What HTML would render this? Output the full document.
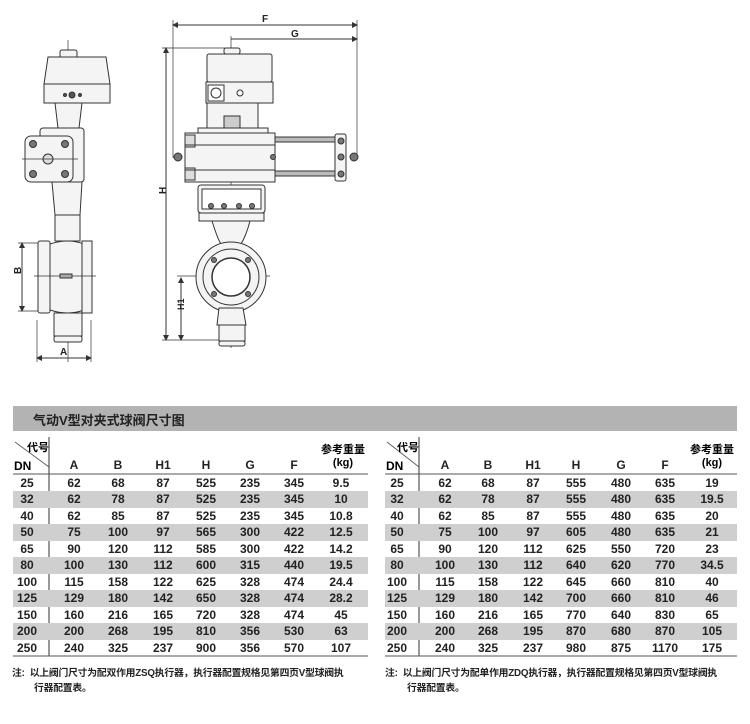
<!DOCTYPE html>
<html><head><meta charset="utf-8"><style>
body{margin:0;background:#fff;width:750px;height:724px;position:relative;overflow:hidden;font-family:"Liberation Sans","Noto Sans CJK SC",sans-serif;}
.bar{position:absolute;left:13px;top:406px;width:724px;height:25px;background:#b3b3b3;}
.bar span{position:absolute;left:20px;top:4px;font-size:13px;font-weight:bold;color:#222;}
.t{position:absolute;top:437px;}
.row{position:absolute;left:0;height:16.5px;font-size:12px;font-weight:bold;color:#222;}
.row div{position:absolute;top:1px;width:40px;margin-left:-20px;text-align:center;}
.g{background:#cfcfcf;}
.note{position:absolute;font-size:9.8px;font-weight:bold;color:#222;line-height:15px;white-space:nowrap;letter-spacing:-0.2px;}
</style></head><body>
<svg width="750" height="400" style="position:absolute;left:0;top:0" stroke="#333" fill="none" stroke-width="1">
<defs><marker id="ar" markerWidth="6" markerHeight="6" refX="5" refY="3" orient="auto-start-reverse"><path d="M0 0 L6 3 L0 6 Z" fill="#333" stroke="none"/></marker></defs>
<!-- left view -->
<line x1="68" y1="40" x2="68" y2="362" stroke-width="0.7"/>
<rect x="60" y="50" width="17" height="8" rx="2" fill="#f4f4f4"/>
<path d="M48 57 L106 57 L110 84 L44 84 Z" fill="#f4f4f4"/>
<rect x="44" y="84" width="66" height="19" fill="#f4f4f4"/>
<circle cx="72" cy="95" r="3" fill="#555"/><circle cx="65" cy="95" r="1.5" fill="#555"/><circle cx="80" cy="95" r="1.5" fill="#555"/>
<path d="M55 103 L82 103 L79 128 L58 128 Z" fill="#f4f4f4"/>
<rect x="40" y="128" width="44" height="54" rx="3" fill="#f4f4f4"/>
<rect x="25" y="136" width="48" height="46" rx="6" fill="#f4f4f4"/>
<circle cx="33" cy="144" r="3.5" fill="#777"/><circle cx="65" cy="144" r="3.5" fill="#777"/><circle cx="33" cy="174" r="3.5" fill="#777"/><circle cx="65" cy="174" r="3.5" fill="#777"/>
<circle cx="48" cy="159" r="5" fill="#ddd"/>
<line x1="22" y1="159" x2="78" y2="159" stroke-width="0.7"/>
<path d="M52 182 L82 182 L80 215 L55 215 Z" fill="#f4f4f4"/>
<rect x="55" y="215" width="25" height="26" fill="#f4f4f4"/>
<rect x="38" y="241" width="12" height="72" rx="2" fill="#f4f4f4"/>
<path d="M50 244 Q68 238 84 244 L84 310 Q68 316 50 310 Z" fill="#f4f4f4"/>
<rect x="82" y="241" width="10" height="72" fill="#f4f4f4"/>
<rect x="54" y="313" width="28" height="23" fill="#f4f4f4"/>
<rect x="54" y="336" width="28" height="6" rx="2" fill="#f4f4f4"/>
<line x1="34" y1="276" x2="96" y2="276" stroke-width="0.7"/>
<rect x="60" y="274" width="12" height="4" fill="#aaa"/>
<line x1="18" y1="243" x2="38" y2="243" stroke-width="0.7"/><line x1="18" y1="311" x2="38" y2="311" stroke-width="0.7"/>
<line x1="22" y1="243" x2="22" y2="311" marker-start="url(#ar)" marker-end="url(#ar)"/>
<line x1="37" y1="320" x2="37" y2="362" stroke-width="0.7"/><line x1="91" y1="320" x2="91" y2="362" stroke-width="0.7"/>
<line x1="37" y1="358" x2="91" y2="358" marker-start="url(#ar)" marker-end="url(#ar)"/>
<!-- right view -->
<line x1="231" y1="36" x2="231" y2="348" stroke-width="0.7"/>
<line x1="173" y1="25" x2="357" y2="25" marker-start="url(#ar)" marker-end="url(#ar)"/>
<line x1="173" y1="20" x2="173" y2="158" stroke-width="0.7"/><line x1="357" y1="20" x2="357" y2="158" stroke-width="0.7"/>
<line x1="231" y1="39" x2="357" y2="39" marker-end="url(#ar)"/>
<line x1="166" y1="48" x2="166" y2="340" marker-start="url(#ar)" marker-end="url(#ar)"/>
<line x1="162" y1="48" x2="225" y2="48" stroke-width="0.7"/>
<line x1="162" y1="340" x2="222" y2="340" stroke-width="0.7"/>
<line x1="181" y1="278" x2="181" y2="340" marker-start="url(#ar)" marker-end="url(#ar)"/>
<line x1="177" y1="276" x2="270" y2="276" stroke-width="0.7"/>
<rect x="224" y="48" width="16" height="6" rx="2" fill="#f4f4f4"/>
<rect x="207" y="54" width="65" height="28" rx="2" fill="#f4f4f4"/>
<rect x="206" y="82" width="67" height="21" fill="#f4f4f4"/>
<rect x="208" y="85" width="16" height="16" fill="#fff"/><circle cx="216" cy="93" r="5"/>
<circle cx="240" cy="93" r="3"/>
<rect x="207" y="103" width="51" height="27" fill="#f4f4f4"/>
<rect x="224" y="116" width="16" height="12" fill="#ccc"/>
<rect x="198" y="128" width="70" height="5" fill="#f4f4f4"/>
<rect x="185" y="133" width="90" height="49" fill="#f4f4f4"/>
<rect x="185" y="135" width="10" height="12" fill="#ddd"/><rect x="185" y="168" width="10" height="12" fill="#ddd"/>
<line x1="185" y1="145" x2="275" y2="145"/><line x1="185" y1="170" x2="275" y2="170"/>
<circle cx="178" cy="157" r="4" fill="#777"/><circle cx="273" cy="157" r="2.5" fill="#777"/>
<rect x="275" y="137" width="60" height="5" fill="#bbb"/><rect x="275" y="171" width="60" height="5" fill="#bbb"/>
<rect x="335" y="134" width="11" height="47" rx="2" fill="#f4f4f4"/>
<circle cx="341" cy="141" r="3" fill="#777"/><circle cx="341" cy="157" r="3" fill="#777"/><circle cx="341" cy="174" r="3" fill="#777"/>
<circle cx="354" cy="157" r="4" fill="#777"/>
<rect x="198" y="185" width="67" height="28" rx="3" fill="#f4f4f4"/>
<rect x="202" y="189" width="59" height="20" fill="#fff"/>
<circle cx="211" cy="206" r="2.5" fill="#777"/><circle cx="224" cy="206" r="2.5" fill="#777"/><circle cx="239" cy="206" r="2.5" fill="#777"/><circle cx="252" cy="206" r="2.5" fill="#777"/>
<rect x="199" y="213" width="65" height="8" fill="#f4f4f4"/>
<path d="M212 221 Q218 240 221 244 L241 244 Q246 236 250 221 Z" fill="#f4f4f4"/>
<circle cx="231" cy="277" r="35" fill="#f4f4f4"/>
<circle cx="231" cy="277" r="28"/>
<circle cx="231" cy="277" r="19" fill="#fff" stroke-width="1.5"/>
<circle cx="214" cy="260" r="2.5" fill="#777"/><circle cx="248" cy="260" r="2.5" fill="#777"/><circle cx="214" cy="294" r="2.5" fill="#777"/><circle cx="248" cy="294" r="2.5" fill="#777"/>
<path d="M219 308 L243 308 L246 325 L217 325 Z" fill="#f4f4f4"/>
<rect x="219" y="325" width="26" height="16" fill="#f4f4f4"/>
<rect x="219" y="341" width="26" height="5" rx="2" fill="#f4f4f4"/>
<g fill="#222" stroke="none" font-family="Liberation Sans" font-size="10" font-weight="bold">
<text x="262" y="22">F</text><text x="291" y="37">G</text>
<text x="60" y="355">A</text>
<text x="19" y="282" transform="rotate(-90 16 277)">B</text>
<text x="164" y="202" transform="rotate(-90 161 197)">H</text>
<text x="180" y="318" transform="rotate(-90 178 312)" font-size="9">H1</text>
</g>
</svg>

<div class="bar"><span>气动V型对夹式球阀尺寸图</span></div>

<!-- left table -->
<div class="t" style="left:13px;width:355px;height:220px;">
  <svg width="355" height="220" style="position:absolute;left:0;top:0" stroke="#555">
    <line x1="0" y1="37" x2="355" y2="37" stroke-width="1"/>
    <line x1="36" y1="0" x2="36" y2="219" stroke-width="1.2"/>
    <line x1="2" y1="5" x2="36" y2="30" stroke-width="0.8"/>
    <line x1="0" y1="219" x2="355" y2="219" stroke-width="1"/>
  </svg>
  <div style="position:absolute;left:14px;top:2px;font-size:11px;font-weight:bold">代号</div>
  <div style="position:absolute;left:1px;top:22px;font-size:12px;font-weight:bold">DN</div>
  <div style="position:absolute;left:308px;top:7px;font-size:11px;font-weight:bold;text-align:center;width:44px;line-height:13px">参考重量<br>(kg)</div>
  <div class="row" style="top:20px;width:355px"><div style="left:61px">A</div><div style="left:105px">B</div><div style="left:150px">H1</div><div style="left:193px">H</div><div style="left:237px">G</div><div style="left:281px">F</div></div>
  <div class="row" style="top:37.5px;width:355px"><div style="left:14px">25</div><div style="left:61px">62</div><div style="left:105px">68</div><div style="left:150px">87</div><div style="left:193px">525</div><div style="left:237px">235</div><div style="left:281px">345</div><div style="left:328px">9.5</div></div>
  <div class="row g" style="top:54px;width:355px"><div style="left:14px">32</div><div style="left:61px">62</div><div style="left:105px">78</div><div style="left:150px">87</div><div style="left:193px">525</div><div style="left:237px">235</div><div style="left:281px">345</div><div style="left:328px">10</div></div>
  <div class="row" style="top:70.5px;width:355px"><div style="left:14px">40</div><div style="left:61px">62</div><div style="left:105px">85</div><div style="left:150px">87</div><div style="left:193px">525</div><div style="left:237px">235</div><div style="left:281px">345</div><div style="left:328px">10.8</div></div>
  <div class="row g" style="top:87px;width:355px"><div style="left:14px">50</div><div style="left:61px">75</div><div style="left:105px">100</div><div style="left:150px">97</div><div style="left:193px">565</div><div style="left:237px">300</div><div style="left:281px">422</div><div style="left:328px">12.5</div></div>
  <div class="row" style="top:103.5px;width:355px"><div style="left:14px">65</div><div style="left:61px">90</div><div style="left:105px">120</div><div style="left:150px">112</div><div style="left:193px">585</div><div style="left:237px">300</div><div style="left:281px">422</div><div style="left:328px">14.2</div></div>
  <div class="row g" style="top:120px;width:355px"><div style="left:14px">80</div><div style="left:61px">100</div><div style="left:105px">130</div><div style="left:150px">112</div><div style="left:193px">600</div><div style="left:237px">315</div><div style="left:281px">440</div><div style="left:328px">19.5</div></div>
  <div class="row" style="top:136.5px;width:355px"><div style="left:14px">100</div><div style="left:61px">115</div><div style="left:105px">158</div><div style="left:150px">122</div><div style="left:193px">625</div><div style="left:237px">328</div><div style="left:281px">474</div><div style="left:328px">24.4</div></div>
  <div class="row g" style="top:153px;width:355px"><div style="left:14px">125</div><div style="left:61px">129</div><div style="left:105px">180</div><div style="left:150px">142</div><div style="left:193px">650</div><div style="left:237px">328</div><div style="left:281px">474</div><div style="left:328px">28.2</div></div>
  <div class="row" style="top:169.5px;width:355px"><div style="left:14px">150</div><div style="left:61px">160</div><div style="left:105px">216</div><div style="left:150px">165</div><div style="left:193px">720</div><div style="left:237px">328</div><div style="left:281px">474</div><div style="left:328px">45</div></div>
  <div class="row g" style="top:186px;width:355px"><div style="left:14px">200</div><div style="left:61px">200</div><div style="left:105px">268</div><div style="left:150px">195</div><div style="left:193px">810</div><div style="left:237px">356</div><div style="left:281px">530</div><div style="left:328px">63</div></div>
  <div class="row" style="top:202.5px;width:355px"><div style="left:14px">250</div><div style="left:61px">240</div><div style="left:105px">325</div><div style="left:150px">237</div><div style="left:193px">900</div><div style="left:237px">356</div><div style="left:281px">570</div><div style="left:328px">107</div></div>
</div>

<!-- right table -->
<div class="t" style="left:385px;width:352px;height:220px;">
  <svg width="352" height="220" style="position:absolute;left:0;top:0" stroke="#555">
    <line x1="0" y1="37" x2="352" y2="37" stroke-width="1"/>
    <line x1="34" y1="0" x2="34" y2="219" stroke-width="1.2"/>
    <line x1="2" y1="5" x2="34" y2="30" stroke-width="0.8"/>
    <line x1="0" y1="219" x2="352" y2="219" stroke-width="1"/>
  </svg>
  <div style="position:absolute;left:12px;top:2px;font-size:11px;font-weight:bold">代号</div>
  <div style="position:absolute;left:1px;top:22px;font-size:12px;font-weight:bold">DN</div>
  <div style="position:absolute;left:305px;top:7px;font-size:11px;font-weight:bold;text-align:center;width:44px;line-height:13px">参考重量<br>(kg)</div>
  <div class="row" style="top:20px;width:352px"><div style="left:60px">A</div><div style="left:103px">B</div><div style="left:148px">H1</div><div style="left:191px">H</div><div style="left:236px">G</div><div style="left:280px">F</div></div>
  <div class="row" style="top:37.5px;width:352px"><div style="left:12px">25</div><div style="left:60px">62</div><div style="left:103px">68</div><div style="left:148px">87</div><div style="left:191px">555</div><div style="left:236px">480</div><div style="left:280px">635</div><div style="left:327px">19</div></div>
  <div class="row g" style="top:54px;width:352px"><div style="left:12px">32</div><div style="left:60px">62</div><div style="left:103px">78</div><div style="left:148px">87</div><div style="left:191px">555</div><div style="left:236px">480</div><div style="left:280px">635</div><div style="left:327px">19.5</div></div>
  <div class="row" style="top:70.5px;width:352px"><div style="left:12px">40</div><div style="left:60px">62</div><div style="left:103px">85</div><div style="left:148px">87</div><div style="left:191px">555</div><div style="left:236px">480</div><div style="left:280px">635</div><div style="left:327px">20</div></div>
  <div class="row g" style="top:87px;width:352px"><div style="left:12px">50</div><div style="left:60px">75</div><div style="left:103px">100</div><div style="left:148px">97</div><div style="left:191px">605</div><div style="left:236px">480</div><div style="left:280px">635</div><div style="left:327px">21</div></div>
  <div class="row" style="top:103.5px;width:352px"><div style="left:12px">65</div><div style="left:60px">90</div><div style="left:103px">120</div><div style="left:148px">112</div><div style="left:191px">625</div><div style="left:236px">550</div><div style="left:280px">720</div><div style="left:327px">23</div></div>
  <div class="row g" style="top:120px;width:352px"><div style="left:12px">80</div><div style="left:60px">100</div><div style="left:103px">130</div><div style="left:148px">112</div><div style="left:191px">640</div><div style="left:236px">620</div><div style="left:280px">770</div><div style="left:327px">34.5</div></div>
  <div class="row" style="top:136.5px;width:352px"><div style="left:12px">100</div><div style="left:60px">115</div><div style="left:103px">158</div><div style="left:148px">122</div><div style="left:191px">645</div><div style="left:236px">660</div><div style="left:280px">810</div><div style="left:327px">40</div></div>
  <div class="row g" style="top:153px;width:352px"><div style="left:12px">125</div><div style="left:60px">129</div><div style="left:103px">180</div><div style="left:148px">142</div><div style="left:191px">700</div><div style="left:236px">660</div><div style="left:280px">810</div><div style="left:327px">46</div></div>
  <div class="row" style="top:169.5px;width:352px"><div style="left:12px">150</div><div style="left:60px">160</div><div style="left:103px">216</div><div style="left:148px">165</div><div style="left:191px">770</div><div style="left:236px">640</div><div style="left:280px">830</div><div style="left:327px">65</div></div>
  <div class="row g" style="top:186px;width:352px"><div style="left:12px">200</div><div style="left:60px">200</div><div style="left:103px">268</div><div style="left:148px">195</div><div style="left:191px">870</div><div style="left:236px">680</div><div style="left:280px">870</div><div style="left:327px">105</div></div>
  <div class="row" style="top:202.5px;width:352px"><div style="left:12px">250</div><div style="left:60px">240</div><div style="left:103px">325</div><div style="left:148px">237</div><div style="left:191px">980</div><div style="left:236px">875</div><div style="left:280px">1170</div><div style="left:327px">175</div></div>
</div>

<div class="note" style="left:12px;top:666px;">注:&nbsp;&nbsp;以上阀门尺寸为配双作用ZSQ执行器，执行器配置规格见第四页V型球阀执<br><span style="padding-left:22px">行器配置表。</span></div>
<div class="note" style="left:385px;top:666px;">注:&nbsp;&nbsp;以上阀门尺寸为配单作用ZDQ执行器，执行器配置规格见第四页V型球阀执<br><span style="padding-left:22px">行器配置表。</span></div>
</body></html>
